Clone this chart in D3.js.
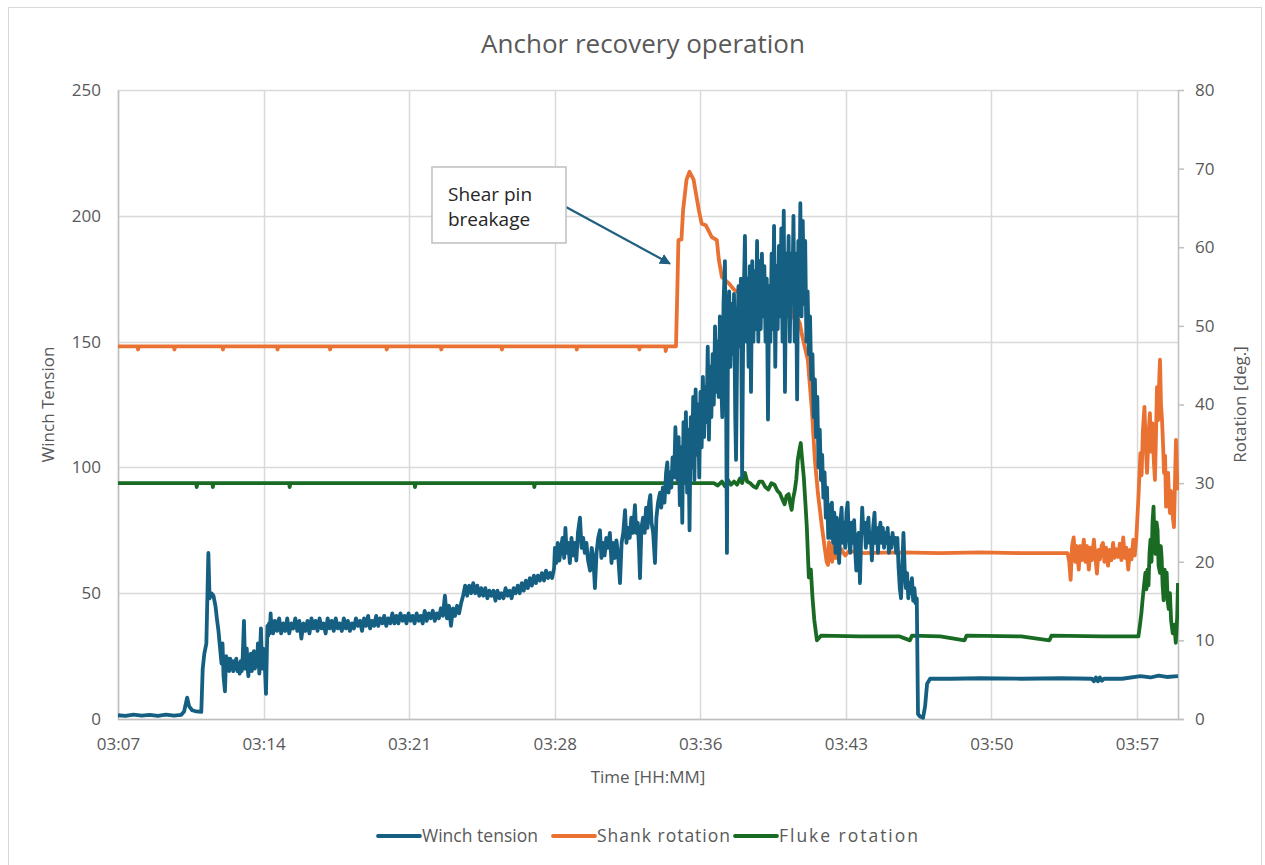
<!DOCTYPE html>
<html><head><meta charset="utf-8">
<script src="https://cdn.jsdelivr.net/npm/d3@7"></script>
<style>
html,body{margin:0;padding:0;background:#fff;}
svg{display:block;font-family:"Open Sans","DejaVu Sans",sans-serif;}
</style></head>
<body>
<svg id="chart" width="1265" height="865"></svg>
<script>
// ---- data (time in minutes after 03:00) ----
const chartTitle = "Anchor recovery operation";
const seriesNames = ["Winch tension", "Shank rotation", "Fluke rotation"];
const timeTickValues = [7.33, 14.53, 21.73, 28.93, 36.13, 43.33, 50.53, 57.73];
const timeTickLabels = ["03:07", "03:14", "03:21", "03:28", "03:36", "03:43", "03:50", "03:57"];
const leftTicks = [0, 50, 100, 150, 200, 250];
const rightTicks = [0, 10, 20, 30, 40, 50, 60, 70, 80];

const winchTension = [
 [7.33,1.5],[7.7,1.2],[8.1,1.7],[8.5,1.3],[8.9,1.6],[9.3,1.2],[9.7,1.7],[10.1,1.3],[10.45,1.6],
 [10.6,3],[10.75,8.5],[10.85,5],[11.0,3.5],[11.2,3],[11.45,2.8],
 [11.52,20],[11.6,26],[11.7,30],[11.8,66],[11.86,48],[11.95,50],[12.05,49],[12.15,45],[12.22,40],
 [12.3,35],[12.38,28],[12.45,22],[12.5,30],[12.55,17],[12.62,11],[12.68,25],[12.73,20],[12.78,24],
 [12.83,19],[12.88,24],[12.93,20],[12.98,23],[13.03,19],[13.08,23],[13.13,20],[13.18,24],[13.24,19],
 [13.3,22],[13.35,18],[13.4,23],[13.45,19],[13.5,25],[13.56,39],[13.62,20],[13.66,26],[13.7,28],
 [13.74,20],[13.78,17],[13.82,24],[13.86,20],[13.9,26],[13.95,19],[14.0,24],[14.05,27],[14.1,20],
 [14.15,25],[14.2,21],[14.25,30],[14.32,18],[14.4,36],[14.44,24],[14.48,20],[14.52,28],[14.55,25],
 [14.6,20],[14.65,10],[14.72,37],[14.76,33],[14.8,38],[14.84,34],[14.88,42],[14.92,35],[14.96,39],
 [15.0,34],[15.1,39],[15.2,35],[15.3,40],[15.4,34],[15.5,38],[15.6,35],[15.7,40],[15.8,34],[15.9,38],
 [16.0,36],[16.1,40],[16.2,35],[16.3,39],[16.4,32],[16.5,38],[16.6,35],[16.7,39],[16.8,34],[16.9,40],
 [17.0,36],[17.1,39],[17.2,35],[17.3,40],[17.4,36],[17.5,38],[17.6,34],[17.7,40],[17.8,36],[17.9,39],
 [18.0,35],[18.1,40],[18.2,36],[18.3,38],[18.4,35],[18.5,40],[18.6,36],[18.7,39],[18.8,35],[18.9,38],
 [19.0,36],[19.1,40],[19.2,37],[19.3,39],[19.4,35],[19.5,40],[19.6,37],[19.7,41],[19.8,36],[19.9,39],
 [20.0,37],[20.1,41],[20.2,37],[20.3,40],[20.4,38],[20.5,41],[20.6,37],[20.7,40],[20.8,38],[20.9,42],
 [21.0,38],[21.1,41],[21.2,38],[21.3,42],[21.4,39],[21.5,41],[21.6,38],[21.7,42],[21.8,39],[21.9,41],
 [22.0,38],[22.1,42],[22.2,39],[22.3,41],[22.4,38],[22.5,43],[22.6,39],[22.7,42],[22.8,40],[22.9,43],
 [23.0,39],[23.1,42],[23.2,40],[23.3,44],[23.4,41],[23.5,49],[23.6,40],[23.7,45],[23.8,37],[23.9,44],
 [24.0,41],[24.1,45],[24.2,42],[24.3,46],[24.4,49],[24.5,53],[24.6,49],[24.7,53],[24.8,50],[24.9,54],
 [25.0,50],[25.1,53],[25.2,49],[25.3,52],[25.4,49],[25.5,52],[25.6,48],[25.7,51],[25.8,49],[25.9,51],
 [26.0,47],[26.1,51],[26.2,48],[26.3,50],[26.4,48],[26.5,52],[26.6,49],[26.7,51],[26.8,48],[26.9,52],
 [27.0,50],[27.1,53],[27.2,50],[27.3,54],[27.4,51],[27.5,55],[27.6,52],[27.7,56],[27.8,53],[27.9,57],
 [28.0,54],[28.1,57],[28.2,55],[28.3,58],[28.4,55],[28.5,59],[28.6,56],[28.7,58],[28.8,56],[28.9,60],
 [28.94,68],[29.0,62],[29.08,70],[29.16,63],[29.24,68],[29.32,72],[29.4,64],[29.46,76],[29.52,66],
 [29.6,70],[29.68,62],[29.76,72],[29.84,65],[29.92,70],[30.0,63],[30.08,74],[30.18,80],[30.26,68],
 [30.34,72],[30.42,66],[30.5,70],[30.58,63],[30.68,59],[30.76,68],[30.84,64],[30.92,52],[31.0,66],
 [31.08,72],[31.17,75],[31.24,64],[31.32,70],[31.4,65],[31.48,72],[31.56,68],[31.66,74],[31.74,62],
 [31.82,70],[31.9,64],[31.98,71],[32.06,66],[32.16,54],[32.24,70],[32.32,74],[32.41,83],[32.48,70],
 [32.56,76],[32.64,72],[32.72,80],[32.8,74],[32.9,85],[32.96,74],[33.04,78],[33.1,68],[33.15,56],
 [33.22,76],[33.3,80],[33.38,74],[33.45,84],[33.52,76],[33.6,86],[33.66,89],[33.72,78],[33.8,74],
 [33.89,62],[33.96,80],[34.04,86],[34.14,90],[34.2,84],[34.28,92],[34.36,86],[34.44,98],[34.5,102],
 [34.56,90],[34.62,98],[34.7,92],[34.76,104],[34.84,96],[34.9,116],[34.96,100],
 [35.0,95],[35.06,112],[35.12,85],[35.18,108],[35.24,78],[35.3,118],[35.36,95],[35.42,122],[35.48,90],
 [35.54,115],[35.6,75],[35.66,120],[35.72,100],[35.78,128],[35.84,95],[35.9,131],[35.96,105],[36.02,125],
 [36.08,96],[36.14,130],[36.2,108],[36.26,136],[36.32,112],[36.38,132],[36.44,118],[36.5,148],[36.56,111],
 [36.62,140],[36.68,120],[36.74,145],[36.8,125],[36.86,156],[36.92,130],[36.98,150],[37.04,128],[37.1,160],
 [37.16,135],[37.22,120],[37.28,165],[37.35,182],[37.4,140],[37.45,66],[37.5,150],[37.56,170],[37.62,140],
 [37.68,165],[37.74,145],[37.8,169],[37.86,120],[37.9,103],[37.96,150],[38.02,172],[38.08,148],[38.14,175],
 [38.2,96],[38.26,160],[38.34,192],[38.4,150],[38.46,175],[38.52,140],[38.58,180],[38.64,130],[38.7,182],
 [38.76,150],[38.82,178],[38.88,155],[38.94,190],[39.0,150],[39.06,182],[39.12,155],[39.18,185],[39.24,160],
 [39.3,180],[39.36,150],[39.42,175],[39.48,119],[39.54,172],[39.6,150],[39.66,185],[39.72,155],[39.78,196],
 [39.84,140],[39.9,180],[39.96,155],[40.02,188],[40.08,160],[40.14,195],[40.2,150],[40.26,202],[40.32,130],
 [40.38,185],[40.44,160],[40.5,192],[40.56,150],[40.62,185],[40.68,165],[40.74,200],[40.8,150],[40.86,185],
 [40.92,127],[40.98,190],[41.04,170],[41.08,205],[41.14,160],[41.2,198],[41.26,165],[41.32,190],[41.38,150],
 [41.44,170],[41.5,145],[41.56,160],[41.62,135],[41.68,145],[41.74,120],[41.8,135],[41.86,112],[41.92,128],
 [41.98,100],[42.04,115],[42.1,95],[42.16,105],[42.22,88],[42.28,98],[42.34,80],[42.4,92],[42.46,72],
 [42.52,85],[42.58,72],[42.64,86],[42.7,70],[42.76,82],[42.82,66],[42.88,80],[42.94,70],[43.0,62],
 [43.06,78],[43.12,84],[43.18,70],[43.24,78],[43.3,68],[43.36,82],[43.42,86],[43.48,72],[43.55,66],
 [43.62,78],[43.68,70],[43.74,79],[43.8,66],[43.85,59],[43.9,70],[43.96,74],[44.03,54],[44.08,70],
 [44.14,84],[44.2,74],[44.26,78],[44.32,68],[44.38,76],[44.45,80],[44.5,70],[44.56,74],[44.62,63],
 [44.68,76],[44.75,82],[44.8,70],[44.86,76],[44.92,66],[44.98,74],[45.04,78],[45.1,70],[45.16,76],
 [45.22,68],[45.28,74],[45.34,70],[45.4,76],[45.46,66],[45.52,72],[45.58,68],[45.64,74],[45.7,70],
 [45.76,72],[45.82,66],[45.88,72],[45.94,60],[46.0,52],[46.06,48],[46.12,60],[46.18,74],[46.24,60],
 [46.3,52],[46.36,58],[46.42,48],[46.48,54],[46.54,50],[46.6,56],[46.66,47],[46.72,52],[46.78,46],
 [46.84,48],[46.9,2],[47.0,1],[47.15,0.5],[47.25,5],[47.35,14],[47.5,16],[48.5,16],
 [50.0,16.2],[52.0,16],[54.0,16.2],[55.5,16],[55.6,15],[55.7,16.5],[55.8,15],[55.9,16.5],[56.0,15.2],
 [56.1,16],[57.0,16],[57.9,17],[58.4,16.5],[58.8,17.2],[59.2,16.7],[59.76,17]
];

const shankRotation = [
 [7.33,47.4],[8.3,47.4],[8.32,47.0],[8.36,47.4],[10.1,47.4],[10.12,47.0],[10.16,47.4],[12.5,47.4],
 [12.52,47.0],[12.56,47.4],[15.2,47.4],[15.22,47.0],[15.26,47.4],[17.8,47.4],[17.82,47.0],[17.86,47.4],
 [20.6,47.4],[20.62,47.0],[20.66,47.4],[23.3,47.4],[23.32,47.0],[23.36,47.4],[26.3,47.4],[26.32,47.0],
 [26.36,47.4],[30.0,47.4],[30.02,47.0],[30.06,47.4],[33.1,47.4],[33.12,47.0],[33.16,47.4],[34.4,47.4],
 [34.42,46.8],[34.46,47.4],[34.93,47.4],
 [35.0,55],[35.05,60.9],[35.2,61],[35.28,64.7],[35.45,68.6],[35.6,69.6],[35.8,68.6],[36.06,64.7],
 [36.2,63],[36.4,62.8],[36.7,61.3],[36.95,60.9],[37.05,58.4],[37.2,56.2],[37.55,55.4],[37.8,54.6],
 [38.05,54.2],[38.3,53.7],[38.4,54.3],[38.5,53.5],[38.6,54.2],[38.7,53.3],[38.8,54.1],[38.9,53.6],
 [39.0,54.3],[39.1,53.5],[39.2,54.0],[39.3,53.4],[39.4,54.2],[39.5,53.4],[39.6,54.0],[39.7,53.5],
 [39.8,54.0],[39.9,53.2],[40.0,53.8],[40.1,53.0],[40.2,53.4],[40.3,52.6],[40.4,53.5],[40.45,55.4],
 [40.5,52.0],[40.55,51.5],[40.65,52.3],[40.8,50.7],[40.9,51.2],[41.06,50.3],[41.15,49.0],[41.3,47.3],
 [41.45,45.7],[41.55,42.5],[41.65,39.3],[41.8,32.9],[41.95,28.7],[42.15,24.4],[42.3,21.5],[42.38,20.0],
 [42.45,19.6],[42.5,22.5],[42.58,21.0],[42.65,20],[42.72,22.2],[42.8,20.5],[42.88,22],[42.95,20.4],
 [43.1,21.6],[43.3,20.8],[43.5,21.4],[44.0,21.1],[46.0,21.2],[48.0,21.1],[50.0,21.2],[52.0,21.1],[54.3,21.1],
 [54.38,20],[54.45,17.7],[54.52,22],[54.6,23.1],[54.68,20],[54.76,22],[54.85,19],[54.93,22],[55.0,20.2],
 [55.1,22.8],[55.18,20],[55.26,22],[55.35,19],[55.43,21.8],[55.5,20.2],[55.6,22.8],[55.68,20.5],
 [55.75,18.5],[55.83,21.5],[55.9,20.3],[55.98,22],[56.05,22.4],[56.12,20],[56.2,21.8],[56.3,19.5],
 [56.38,21.5],[56.46,20.2],[56.55,22.4],[56.62,20.5],[56.7,21.6],[56.8,20.6],[56.88,22.3],[56.96,20.2],
 [57.05,23.1],[57.13,20.5],[57.2,21.8],[57.3,19],[57.38,21.5],[57.46,20.3],[57.55,22.8],[57.62,20.8],
 [57.7,23.1],[57.8,28],[57.9,33.8],[57.96,31],[58.02,36.5],[58.1,39.7],[58.16,35],[58.23,31.3],
 [58.3,36],[58.37,38.9],[58.43,34],[58.5,37.6],[58.56,33],[58.62,30.4],[58.67,36],[58.72,42.2],
 [58.78,38],[58.83,43],[58.87,45.7],[58.92,40],[58.97,38],[59.02,35],[59.07,31.3],[59.12,33.5],
 [59.17,27],[59.22,30],[59.27,31.3],[59.32,28],[59.36,26.2],[59.41,29],[59.46,28],[59.51,25.5],
 [59.56,24.4],[59.61,30],[59.66,35.5],[59.71,31],[59.76,29.1]
];

const flukeRotation = [
 [7.33,30],[11.2,30],[11.22,29.5],[11.26,30],[12.0,30],[12.02,29.5],[12.06,30],[15.8,30],
 [15.82,29.5],[15.86,30],[22.0,30],[22.02,29.5],[22.06,30],[27.9,30],[27.92,29.5],[27.96,30],
 [36.8,30],[37.0,29.7],[37.2,30.2],[37.35,29.6],[37.5,30.4],[37.65,29.8],[37.8,30.2],[37.95,29.8],
 [38.1,30.6],[38.2,30.0],[38.34,31.3],[38.45,30.2],[38.6,30.0],[38.75,29.6],[38.9,29.4],[39.05,30.2],
 [39.2,30.2],[39.35,29.5],[39.5,29.2],[39.65,30.0],[39.8,29.8],[39.95,29.0],[40.07,28.7],[40.18,28.0],
 [40.3,27.3],[40.4,28.4],[40.5,28.6],[40.58,27.4],[40.65,26.6],[40.72,28.0],[40.8,29],[40.88,30.5],
 [40.95,32.9],[41.02,34.0],[41.1,35.1],[41.17,33.0],[41.25,30.8],[41.33,27.5],[41.4,24.4],[41.5,18],
 [41.6,19],[41.68,15.5],[41.77,12.6],[41.9,10.0],[42.1,10.6],[44.0,10.5],[46.0,10.5],[46.5,10.0],
 [46.6,10.6],[48.0,10.5],[49.2,10.0],[49.3,10.6],[52.0,10.5],[53.4,10.0],[53.5,10.6],[56.0,10.5],
 [57.8,10.5],[57.88,12],[57.95,13.5],[58.02,15.5],[58.1,17.5],[58.15,18.6],[58.2,16.5],[58.25,19],
 [58.3,17],[58.35,21],[58.4,22.8],[58.45,20],[58.5,25],[58.55,27],[58.6,22],[58.65,21],[58.7,25],
 [58.75,24],[58.8,19.5],[58.87,18.6],[58.91,22],[58.95,20.5],[59.0,17],[59.05,15.1],[59.1,19],
 [59.15,16.5],[59.2,18.6],[59.25,15],[59.3,14],[59.36,16],[59.42,12.5],[59.5,10.9],[59.58,12],
 [59.65,9.7],[59.72,13],[59.76,17.3]
];

const annotationLines = ["Shear pin", "breakage"];

// ---- layout ----
const svg = d3.select("#chart");
const M = {left: 118, right: 1178, top: 90, bottom: 719};
const colors = ["#156082", "#E97132", "#196B24"];
const textGray = "#595959";
const lineW = 3.8;

const x = d3.scaleLinear().domain([7.33, 59.76]).range([M.left, M.right]);
const yL = d3.scaleLinear().domain([0, 250]).range([M.bottom, M.top]);
const yR = d3.scaleLinear().domain([0, 80]).range([M.bottom, M.top]);

// chart border
svg.append("rect").attr("x", 8.5).attr("y", 7.5).attr("width", 1253).attr("height", 880)
  .attr("fill", "#fff").attr("stroke", "#d9d9d9").attr("stroke-width", 1);

// title
svg.append("text").attr("x", 643).attr("y", 53).attr("text-anchor", "middle")
  .attr("font-size", 26).attr("fill", textGray).text(chartTitle);

// horizontal gridlines
svg.append("g").selectAll("line").data(leftTicks).join("line")
  .attr("x1", M.left).attr("x2", M.right)
  .attr("y1", d => Math.round(yL(d)) + 0.5).attr("y2", d => Math.round(yL(d)) + 0.5)
  .attr("stroke", "#d9d9d9").attr("stroke-width", 1.5);
// vertical gridlines
svg.append("g").selectAll("line").data(timeTickValues).join("line")
  .attr("y1", M.top).attr("y2", M.bottom)
  .attr("x1", d => Math.round(x(d)) + 0.5).attr("x2", d => Math.round(x(d)) + 0.5)
  .attr("stroke", "#d9d9d9").attr("stroke-width", 1.5);

// left axis labels
const gL = svg.append("g").attr("transform", `translate(${M.left},0)`)
  .call(d3.axisLeft(yL).tickValues(leftTicks).tickSize(0).tickPadding(17));
gL.select(".domain").attr("stroke", "#bfbfbf").attr("stroke-width", 1.5);
gL.selectAll("text").attr("font-size", 17).attr("fill", textGray).attr("font-family", "Open Sans");

// right axis
const gR = svg.append("g").attr("transform", `translate(${M.right},0)`)
  .call(d3.axisRight(yR).tickValues(rightTicks).tickSize(6).tickPadding(11));
gR.select(".domain").attr("stroke", "#bfbfbf").attr("stroke-width", 1.5).attr("d", `M0.5,${M.top}V${M.bottom}`);
gR.selectAll("line").attr("stroke", "#bfbfbf").attr("stroke-width", 1.5);
gR.selectAll("text").attr("font-size", 17).attr("fill", textGray).attr("font-family", "Open Sans");

// bottom axis
const gB = svg.append("g").attr("transform", `translate(0,${M.bottom})`)
  .call(d3.axisBottom(x).tickValues(timeTickValues).tickFormat((d, i) => timeTickLabels[i]).tickSize(0).tickPadding(19));
gB.select(".domain").attr("stroke", "#bfbfbf").attr("stroke-width", 1.5).attr("d", `M${M.left},0.5H${M.right + 6}`);
gB.selectAll("text").attr("font-size", 17).attr("fill", textGray).attr("font-family", "Open Sans");

// axis titles
svg.append("text").attr("transform", `translate(54,${(M.top + M.bottom) / 2}) rotate(-90)`)
  .attr("text-anchor", "middle").attr("font-size", 17).attr("fill", textGray).text("Winch Tension");
svg.append("text").attr("transform", `translate(1246,${(M.top + M.bottom) / 2}) rotate(-90)`)
  .attr("text-anchor", "middle").attr("font-size", 17).attr("fill", textGray).text("Rotation [deg.]");
svg.append("text").attr("x", 648).attr("y", 783).attr("text-anchor", "middle")
  .attr("font-size", 17).attr("fill", textGray).text("Time [HH:MM]");

// clip
svg.append("clipPath").attr("id", "plotclip").append("rect")
  .attr("x", M.left).attr("y", M.top - 5).attr("width", M.right - M.left + 1).attr("height", M.bottom - M.top + 8);

const plot = svg.append("g").attr("clip-path", "url(#plotclip)");
const lineL = d3.line().x(d => x(d[0])).y(d => yL(d[1]));
const lineR = d3.line().x(d => x(d[0])).y(d => yR(d[1]));

plot.append("path").datum(flukeRotation).attr("d", lineR).attr("fill", "none")
  .attr("stroke", colors[2]).attr("stroke-width", lineW).attr("stroke-linejoin", "round");
plot.append("path").datum(shankRotation).attr("d", lineR).attr("fill", "none")
  .attr("stroke", colors[1]).attr("stroke-width", lineW).attr("stroke-linejoin", "round");
plot.append("path").datum(winchTension).attr("d", lineL).attr("fill", "none")
  .attr("stroke", colors[0]).attr("stroke-width", lineW).attr("stroke-linejoin", "round");

// annotation
const defs = svg.append("defs");
defs.append("marker").attr("id", "arrow").attr("viewBox", "0 0 10 10").attr("refX", 9).attr("refY", 5)
  .attr("markerWidth", 5).attr("markerHeight", 5).attr("orient", "auto")
  .append("path").attr("d", "M0,0L10,5L0,10z").attr("fill", "#1f5f7f");
svg.append("line")
  .attr("x1", x(29.49)).attr("y1", yL(203.5))
  .attr("x2", x(34.63)).attr("y2", yL(181))
  .attr("stroke", "#1f5f7f").attr("stroke-width", 2.2).attr("marker-end", "url(#arrow)");
const bx0 = x(22.86), bx1 = x(29.49), by0 = yL(219.4), by1 = yL(189.2);
svg.append("rect").attr("x", bx0).attr("y", by0).attr("width", bx1 - bx0).attr("height", by1 - by0)
  .attr("fill", "#fff").attr("stroke", "#bfbfbf").attr("stroke-width", 1.5);
svg.append("text").attr("x", bx0 + 16).attr("y", by0 + 34).attr("font-size", 19).attr("fill", "#262626")
  .selectAll("tspan").data(annotationLines).join("tspan")
  .attr("x", bx0 + 16).attr("dy", (d, i) => i === 0 ? 0 : 25).text(d => d);

// legend
const legendX = [378, 553, 735];
const legendTextW = [116, 133, 139];
const lg = svg.append("g");
seriesNames.forEach((name, i) => {
  lg.append("line").attr("x1", legendX[i]).attr("x2", legendX[i] + 42).attr("y1", 836).attr("y2", 836)
    .attr("stroke", colors[i]).attr("stroke-width", lineW).attr("stroke-linecap", "round");
  lg.append("text").attr("x", legendX[i] + 44).attr("y", 842).attr("font-size", 17.5)
    .attr("textLength", legendTextW[i]).attr("lengthAdjust", "spacing")
    .attr("fill", textGray).text(name);
});
</script>
</body></html>
